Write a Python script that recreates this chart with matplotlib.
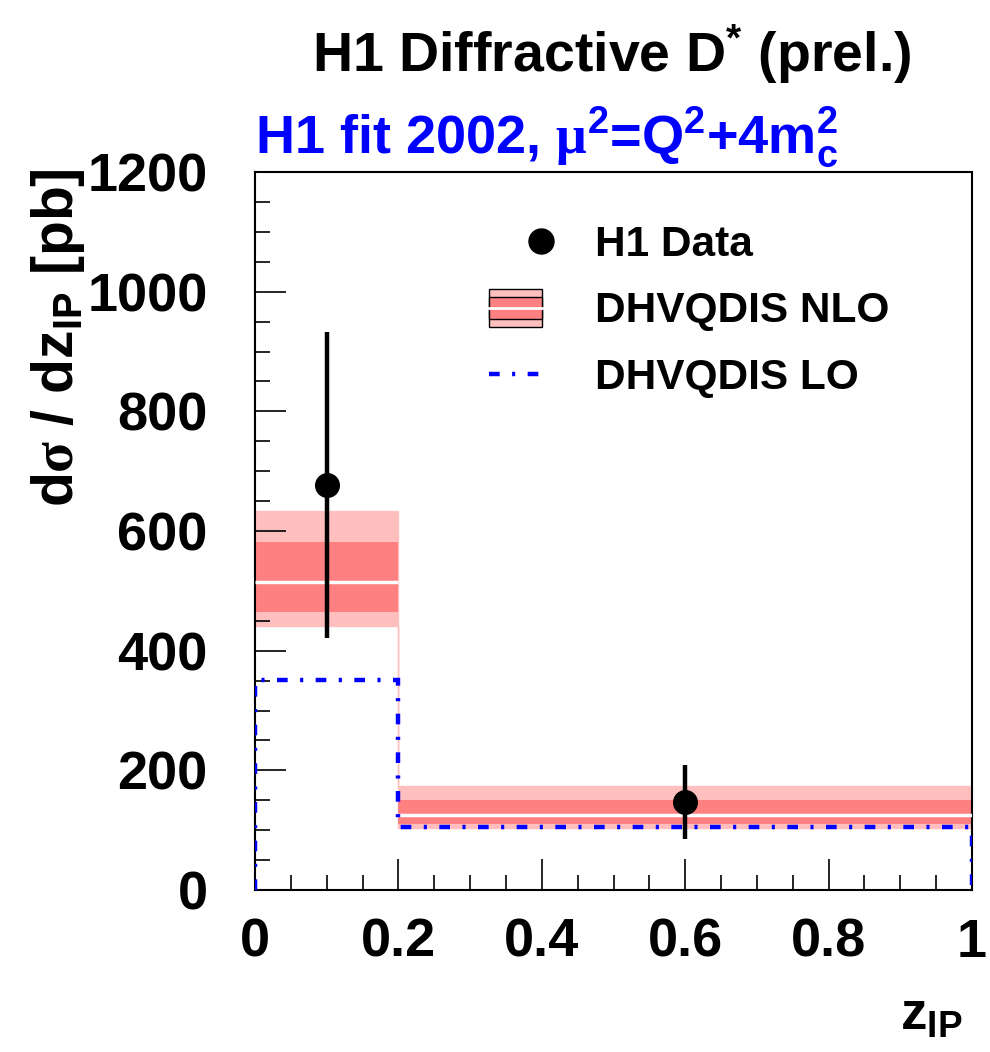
import matplotlib
matplotlib.use("Agg")
import matplotlib.pyplot as plt
from matplotlib.legend_handler import HandlerBase
from matplotlib.patches import Rectangle
from matplotlib.lines import Line2D
from matplotlib.ticker import MultipleLocator

plt.rcParams['font.family'] = ['Liberation Sans', 'DejaVu Sans']
plt.rcParams['font.weight'] = 'bold'
plt.rcParams['mathtext.fontset'] = 'custom'
plt.rcParams['mathtext.bf'] = 'Liberation Sans:bold'
plt.rcParams['mathtext.it'] = 'Liberation Sans:bold'
plt.rcParams['mathtext.sf'] = 'Liberation Sans:bold'
plt.rcParams['mathtext.rm'] = 'Liberation Serif'
plt.rcParams['mathtext.default'] = 'bf'

# ---- data ----
bin_edges = [0.0, 0.2, 1.0]
nlo_central = [515, 125]
nlo_outer_lo = [441, 103]
nlo_outer_hi = [633, 174]
nlo_inner_lo = [465, 111]
nlo_inner_hi = [581, 151]
lo_values = [351, 106]
data_x = [0.1, 0.6]
data_y = [677, 147]
data_err = [256, 62]

LIGHT = '#FFBFBF'
DARK = '#FF8080'
BLUE = '#0000FF'
LO_DASH = (0, (2.4, 2.8, 0.7, 2.8))

fig = plt.figure(figsize=(9.9, 10.52), dpi=100)
ax = fig.add_axes([255/990, 1-890/1052, (972-255)/990, (890-172)/1052])

ax.stairs(nlo_outer_hi, bin_edges, baseline=nlo_outer_lo, fill=True,
          facecolor=LIGHT, edgecolor=LIGHT, lw=1, zorder=1)
ax.stairs(nlo_inner_hi, bin_edges, baseline=nlo_inner_lo, fill=True,
          facecolor=DARK, edgecolor='none', lw=0, zorder=2)
ax.hlines(nlo_central, bin_edges[:-1], bin_edges[1:], colors='white', lw=2.5, zorder=3)
ax.stairs(lo_values, bin_edges, baseline=0, color=BLUE, lw=3.2,
          linestyle=LO_DASH, zorder=4)
ax.errorbar(data_x, data_y, yerr=data_err, fmt='o', color='black', ms=17,
            elinewidth=3.2, capsize=0, zorder=5)

ax.set_xlim(0, 1)
ax.set_ylim(0, 1200)
ax.xaxis.set_minor_locator(MultipleLocator(0.05))
ax.yaxis.set_major_locator(MultipleLocator(200))
ax.yaxis.set_minor_locator(MultipleLocator(50))
ax.set_xticks([0, 0.2, 0.4, 0.6, 0.8, 1.0])
ax.set_xticklabels(['0', '0.2', '0.4', '0.6', '0.8', '1'])
ax.tick_params(which='both', direction='in', top=False, right=False,
               labelsize=39, width=1.2)
ax.tick_params(which='major', length=22)
ax.tick_params(which='minor', length=11)
ax.tick_params(axis='y', pad=34)
ax.tick_params(axis='x', pad=20)
for lab in ax.get_xticklabels() + ax.get_yticklabels():
    lab.set_fontweight('bold')
for s in ax.spines.values():
    s.set_linewidth(1.5)

fig.text(87/990, 1-168/1052, r'd$\mathrm{\sigma}$ / dz$_{IP}$ [pb]', rotation=90,
         ha='right', va='top', fontsize=41, fontweight='bold')
fig.text(962/990, 1-1030/1052, r'z$_{IP}$', ha='right', va='baseline',
         fontsize=38, fontweight='bold')

fig.text(612/990, 1-72/1052, r'H1 Diffractive D$^{*}$ (prel.)', ha='center',
         va='baseline', fontsize=40, fontweight='bold')
fig.text(255/990, 1-154/1052, r'H1 fit 2002, $\mathrm{\mu}^{2}$=Q$^{2}$+4m$_{c}^{2}$',
         ha='left', va='baseline', fontsize=39, fontweight='bold', color=BLUE)


class MarkerHandler(HandlerBase):
    def create_artists(self, legend, orig_handle, xdescent, ydescent, width,
                       height, fontsize, trans):
        ln = Line2D([width - xdescent - 1], [height / 2 - ydescent], marker='o',
                    color='black', ms=18, ls='none', transform=trans)
        return [ln]


class BandHandler(HandlerBase):
    def create_artists(self, legend, orig_handle, xdescent, ydescent, width,
                       height, fontsize, trans):
        h = 38 / 1.389
        x0, y0 = -xdescent, -ydescent + height / 2 - h / 2
        outer = Rectangle((x0, y0), width, h, facecolor=LIGHT, edgecolor='black',
                          lw=1, transform=trans)
        inner = Rectangle((x0, y0 + h * 0.19), width, h * 0.58, facecolor=DARK,
                          edgecolor='black', lw=1, transform=trans)
        mid = Line2D([x0, x0 + width], [y0 + h * 0.48, y0 + h * 0.48], color='white',
                     lw=2, transform=trans)
        return [outer, inner, mid]


class LineHandler(HandlerBase):
    def create_artists(self, legend, orig_handle, xdescent, ydescent, width,
                       height, fontsize, trans):
        y = height / 2 - ydescent
        ln = Line2D([-xdescent, -xdescent + width], [y, y], color=BLUE, lw=3.2,
                    ls=LO_DASH, transform=trans)
        return [ln]


class HData: pass
class HNlo: pass
class HLo: pass


leg = ax.legend([HData(), HNlo(), HLo()], ['H1 Data', 'DHVQDIS NLO', 'DHVQDIS LO'],
                handler_map={HData: MarkerHandler(), HNlo: BandHandler(), HLo: LineHandler()},
                loc='upper left', bbox_to_anchor=(0.327, 0.926), frameon=False,
                fontsize=30.5, handlelength=1.25, handletextpad=1.25,
                labelspacing=0.62, borderaxespad=0, borderpad=0)
for t in leg.get_texts():
    t.set_fontweight('bold')

fig.savefig('out.png', dpi=100)
